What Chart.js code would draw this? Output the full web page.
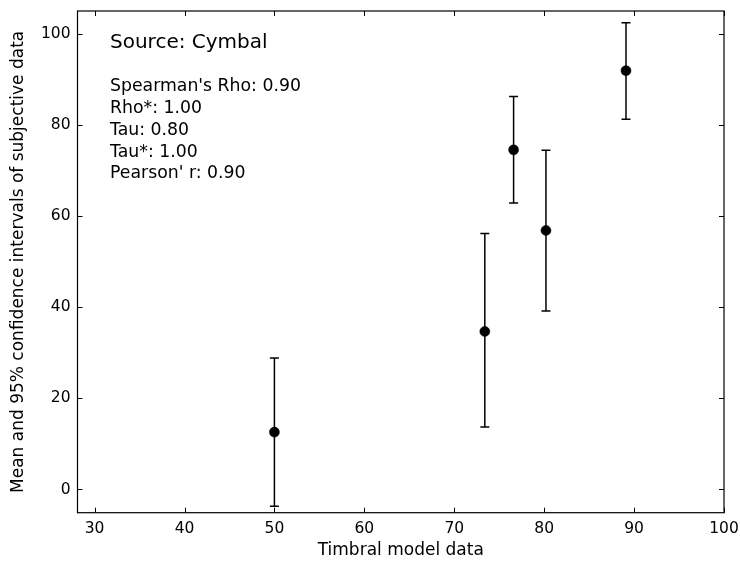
<!DOCTYPE html>
<html>
<head>
<meta charset="utf-8">
<script src="https://cdn.jsdelivr.net/npm/chart.js@4/dist/chart.umd.min.js"></script>
<style>
  html, body { margin: 0; padding: 0; background: #fff; }
  #wrap { width: 740px; height: 565px; }
</style>
</head>
<body>
<div id="wrap"><canvas id="cymbalChart"></canvas></div>
<script>
// timbral model vs subjective data (cymbal)
const modelValues = [50.0, 73.4, 76.6, 80.2, 89.1];
const meanValues = [12.6, 34.7, 74.6, 56.9, 92.0];
const ciLow = [-3.7, 13.7, 62.9, 39.2, 81.3];
const ciHigh = [28.9, 56.2, 86.3, 74.5, 102.5];
const xTicks = [30, 40, 50, 60, 70, 80, 90, 100];
const yTicks = [0, 20, 40, 60, 80, 100];
const sourceLabel = "Source: Cymbal";
const statLines = ["Spearman's Rho: 0.90", "Rho*: 1.00", "Tau: 0.80", "Tau*: 1.00", "Pearson' r: 0.90"];

const FONT = "'DejaVu Sans', sans-serif";
Chart.defaults.font.family = FONT;
Chart.defaults.color = "#000";

const points = modelValues.map((x, i) => ({ x: x, y: meanValues[i] }));

// error bars, inward ticks, frame and text box
const extras = {
    id: "extras",
    beforeDatasetsDraw(chart) {
        const ctx = chart.ctx, xs = chart.scales.x, ys = chart.scales.y;
        ctx.save();
        ctx.strokeStyle = "#000";
        ctx.lineWidth = 1.5;
        modelValues.forEach((x, i) => {
            const px = xs.getPixelForValue(x);
            const top = ys.getPixelForValue(ciHigh[i]);
            const bot = ys.getPixelForValue(ciLow[i]);
            ctx.beginPath();
            ctx.moveTo(px, top); ctx.lineTo(px, bot);
            ctx.moveTo(px - 4.5, top); ctx.lineTo(px + 4.5, top);
            ctx.moveTo(px - 4.5, bot); ctx.lineTo(px + 4.5, bot);
            ctx.stroke();
        });
        ctx.restore();
    },
    afterDraw(chart) {
        const ctx = chart.ctx, a = chart.chartArea;
        const xs = chart.scales.x, ys = chart.scales.y;
        ctx.save();
        ctx.strokeStyle = "#000";
        ctx.lineWidth = 1.2;
        ctx.strokeRect(a.left, a.top, a.right - a.left, a.bottom - a.top);
        ctx.lineWidth = 1;
        ctx.beginPath();
        xTicks.forEach(v => {
            const px = Math.round(xs.getPixelForValue(v)) + 0.5;
            ctx.moveTo(px, a.bottom); ctx.lineTo(px, a.bottom - 5);
            ctx.moveTo(px, a.top); ctx.lineTo(px, a.top + 5);
        });
        yTicks.forEach(v => {
            const py = Math.round(ys.getPixelForValue(v)) + 0.5;
            ctx.moveTo(a.left, py); ctx.lineTo(a.left + 5, py);
            ctx.moveTo(a.right, py); ctx.lineTo(a.right - 5, py);
        });
        ctx.stroke();

        ctx.fillStyle = "#000";
        ctx.textBaseline = "middle";
        ctx.font = "20px " + FONT;
        ctx.fillText(sourceLabel, 110, 43);
        ctx.font = "17.3px " + FONT;
        statLines.forEach((t, i) => ctx.fillText(t, 110, 87 + i * 21.7));
        ctx.restore();
    }
};

new Chart(document.getElementById("cymbalChart"), {
    type: "scatter",
    data: {
        datasets: [{
            data: points,
            backgroundColor: "#000",
            borderColor: "#000",
            borderWidth: 0.5,
            pointRadius: 5,
            pointHoverRadius: 5
        }]
    },
    options: {
        responsive: true,
        maintainAspectRatio: false,
        animation: false,
        layout: { padding: { top: 11, right: 16, left: 0, bottom: 0 } },
        plugins: { legend: { display: false }, tooltip: { enabled: false } },
        scales: {
            x: {
                type: "linear",
                min: 28.1,
                max: 100,
                afterBuildTicks: s => { s.ticks = xTicks.map(v => ({ value: v })); },
                afterFit: s => { s.height = 52.3; s.paddingLeft = 0; s.paddingRight = 0; },
                grid: { display: false, drawTicks: false },
                border: { display: false },
                ticks: { font: { size: 15.5 }, padding: 7, maxRotation: 0 },
                title: { display: true, text: "Timbral model data", font: { size: 17 }, padding: { top: 4 } }
            },
            y: {
                type: "linear",
                min: -5.1,
                max: 105.1,
                afterBuildTicks: s => { s.ticks = yTicks.map(v => ({ value: v })); },
                afterFit: s => { s.width = 77.5; s.paddingTop = 0; s.paddingBottom = 0; },
                grid: { display: false, drawTicks: false },
                border: { display: false },
                ticks: { font: { size: 15.5 }, padding: 7 },
                title: { display: true, text: "Mean and 95% confidence intervals of subjective data", font: { size: 17 }, padding: { top: 8, bottom: 0 } }
            }
        }
    },
    plugins: [extras]
});
</script>
</body>
</html>
